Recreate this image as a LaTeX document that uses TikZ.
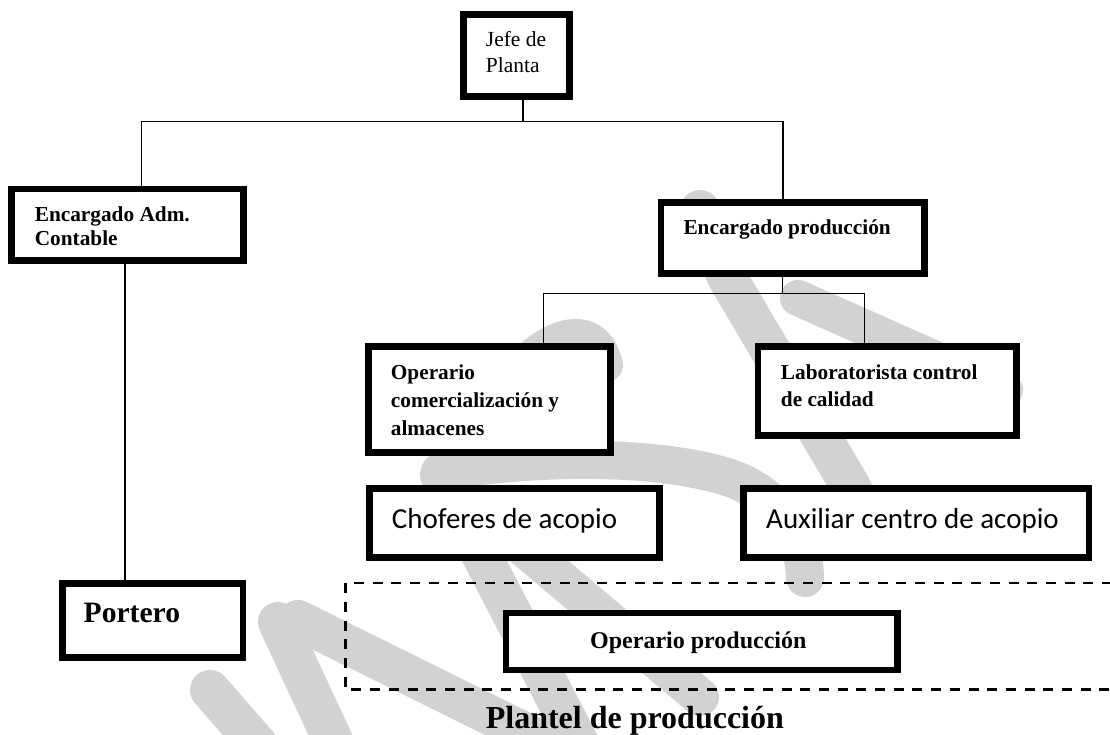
\documentclass[tikz,border=0pt]{standalone}
\usepackage{fontspec}
\setmainfont{Liberation Serif}
\newfontfamily\calib{Carlito}
\definecolor{wmgray}{RGB}{210,210,210}
\begin{document}
\begin{tikzpicture}[x=1pt,y=-1pt,
  orgbox/.style={draw=black, line width=6.8pt, fill=white, inner sep=0pt},
  conn/.style={draw=black, line width=1.3pt},
  wm/.style={draw=wmgray, line width=40pt, line cap=round, line join=round},
  lbl/.style={anchor=base west, inner sep=0pt, text=black}]
\useasboundingbox (0,0) rectangle (1110,735);
\fill[white] (0,0) rectangle (1110,735);
% watermark
\begin{scope}
\clip (0,0) rectangle (1110,735);
\draw[wm] (700,210) -- (727,277) -- (851,487) -- (872,535);
\draw[wm, line width=36pt] (798,298) -- (1005,390);
\draw[wm, line width=34pt] (530,358) .. controls (555,335) and (595,320) .. (606,365);
\draw[wm, line width=38pt] (440,472) .. controls (540,455) and (660,455) .. (730,478) .. controls (780,495) and (805,540) .. (805,578);
\draw[wm] (440,475) -- (580,745);
\draw[wm, line width=38pt] (485,515) -- (700,697);
\draw[wm] (278,622) -- (335,745);
\draw[wm] (298,620) -- (540,740);
\draw[wm] (210,690) -- (258,745);
\end{scope}
% dashed group
\coordinate (dtl) at (345.5,583);
\coordinate (dbl) at (345.5,689.5);
\draw[line width=2.6pt, dash pattern=on 10pt off 8.7pt] (1112,583) -- (dtl) -- (dbl) -- (1112,689.5);
% boxes
\node[orgbox, minimum width=106.2pt, minimum height=82.2pt] (jefe) at (516.5,55.5) {};
\node[orgbox, minimum width=232.2pt, minimum height=71.5pt] (adm) at (127.5,224.85) {};
\node[orgbox, minimum width=180.8pt, minimum height=73.9pt] (portero) at (152.6,620.35) {};
\node[orgbox, minimum width=263.3pt, minimum height=70.9pt] (prod) at (792.55,237.85) {};
\node[orgbox, minimum width=242.2pt, minimum height=105.9pt] (oper) at (489.5,399.65) {};
\node[orgbox, minimum width=258.7pt, minimum height=89.2pt] (lab) at (887.25,390.7) {};
\node[orgbox, minimum width=290.2pt, minimum height=68.9pt] (chof) at (514.5,522.85) {};
\node[orgbox, minimum width=345.7pt, minimum height=68.9pt] (aux) at (916.05,522.85) {};
\node[orgbox, minimum width=391.2pt, minimum height=57pt] (opprod) at (701.6,641.4) {};
% texts
\node[lbl, font=\fontsize{21.5}{26}\selectfont] (jefe1) at (485.7,46.7) {Jefe de};
\node[lbl, font=\fontsize{21.5}{26}\selectfont] (jefe2) at (485.7,72.7) {Planta};
\node[lbl, font=\fontsize{21.3}{24}\selectfont\bfseries] (adm1) at (34.6,221.7) {Encargado Adm.};
\node[lbl, font=\fontsize{21.3}{24}\selectfont\bfseries] (adm2) at (34.6,246) {Contable};
\node[lbl, font=\fontsize{21.3}{24}\selectfont\bfseries] (prod1) at (683.3,235) {Encargado producción};
\node[lbl, font=\fontsize{21.3}{24}\selectfont\bfseries] (oper1) at (390.7,379.5) {Operario};
\node[lbl, font=\fontsize{21.3}{24}\selectfont\bfseries] (oper2) at (390.7,407.5) {comercialización y};
\node[lbl, font=\fontsize{21.3}{24}\selectfont\bfseries] (oper3) at (390.7,435) {almacenes};
\node[lbl, font=\fontsize{21.3}{24}\selectfont\bfseries] (lab1) at (780.7,379.3) {Laboratorista control};
\node[lbl, font=\fontsize{21.3}{24}\selectfont\bfseries] (lab2) at (780.7,406.7) {de calidad};
\node[lbl, font=\calib\fontsize{29}{34}\selectfont] (chof1) at (391.7,528.3) {Choferes de acopio};
\node[lbl, font=\calib\fontsize{29}{34}\selectfont] (aux1) at (766,528.3) {Auxiliar centro de acopio};
\node[lbl, font=\fontsize{29.6}{34}\selectfont\bfseries] (portero1) at (83.5,622) {Portero};
\node[lbl, font=\fontsize{24}{28}\selectfont\bfseries] (opprod1) at (590,648) {Operario producción};
\node[lbl, font=\fontsize{32}{36}\selectfont\bfseries] (plantel) at (485.6,728) {Plantel de producción};
% connectors
\coordinate (jb) at (523,121.7);
\coordinate (bl) at (141.8,121.7);
\coordinate (br) at (783,121.7);
\draw[conn] (jefe.south -| jb) -- (jb);
\draw[conn] (adm.north -| bl) -- (bl) -- (br) -- (prod.north -| br);
\coordinate (pb) at (782.5,293.5);
\coordinate (pbl) at (543.3,293.5);
\coordinate (pbr) at (864.7,293.5);
\draw[conn] (prod.south -| pb) -- (pb);
\draw[conn] (oper.north -| pbl) -- (pbl) -- (pbr) -- (lab.north -| pbr);
\coordinate (ap) at (125,400);
\draw[conn] (adm.south -| ap) -- (portero.north -| ap);
\end{tikzpicture}
\end{document}
